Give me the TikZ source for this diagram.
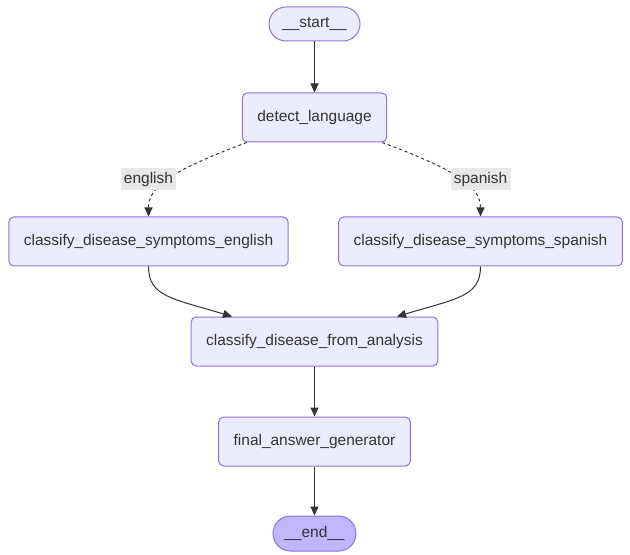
\documentclass[tikz,border=0pt]{standalone}
\usepackage{fontspec}
\setmainfont{Liberation Sans}
\usetikzlibrary{positioning,arrows.meta,backgrounds,calc}
\definecolor{nodefill}{HTML}{ECECFF}
\definecolor{nodeedge}{HTML}{9370DB}
\definecolor{endfill}{HTML}{BFB6FC}
\definecolor{ink}{HTML}{333333}
\definecolor{lblfill}{HTML}{E8E8E8}

\begin{document}
\begin{tikzpicture}[
  x=0.75pt,y=-0.75pt,
  font=\fontsize{11.6}{14}\selectfont,
  box/.style={draw=nodeedge,fill=nodefill,text=ink,line width=0.75pt,rounded corners=3.75pt,minimum height=36.75pt,inner xsep=11.25pt},
  term/.style={draw=nodeedge,fill=nodefill,text=ink,line width=0.75pt,rounded corners=12.75pt,minimum height=25.5pt,minimum width=68.25pt},
  lbl/.style={fill=lblfill,text=ink,inner xsep=2.5pt,inner ysep=0pt,minimum height=16.5pt},
  arr/.style={-{Triangle[length=6.75pt,width=6pt]},line width=0.75pt,ink},
  cond/.style={arr,dash pattern=on 2.25pt off 2.25pt}
]
\useasboundingbox (0,0) rectangle (630,555);
\node[term] (start) at (314.5,24) {\_\_start\_\_};
\node[box,below=38.25pt of start] (dl) {detect\_language};
\node[box,below=55.5pt of dl,xshift=-124.5pt] (ce) {classify\_disease\_symptoms\_english};
\node[box,below=55.5pt of dl,xshift=124.5pt] (cs) {classify\_disease\_symptoms\_spanish};
\node[box,below=130.5pt of dl] (cfa) {classify\_disease\_from\_analysis};
\node[box,below=37.5pt of cfa] (fa) {final\_answer\_generator};
\node[term,fill=endfill,below=36.75pt of fa,minimum width=62.25pt,minimum height=26.25pt,rounded corners=13.125pt] (end) {\_\_end\_\_};
\node[lbl,above=19.5pt of ce] (en) {english};
\node[lbl,above=19.5pt of cs] (es) {spanish};
\begin{scope}[on background layer]
\draw[cond] ([xshift=3.75pt]dl.south west) .. controls +(-75,28) and +(0,-30) .. (ce.north);
\draw[cond] ([xshift=-3.75pt]dl.south east) .. controls +(75,28) and +(0,-30) .. (cs.north);
\end{scope}
\draw[arr] (start)--(dl);
\draw[arr] (ce.south) .. controls +(0,30) and +(-60,-18) .. ($(cfa.north)+(-82.5,0)$);
\draw[arr] (cs.south) .. controls +(0,30) and +(60,-18) .. ($(cfa.north)+(82.5,0)$);
\draw[arr] (cfa)--(fa);
\draw[arr] (fa)--(end);
\end{tikzpicture}
\end{document}
